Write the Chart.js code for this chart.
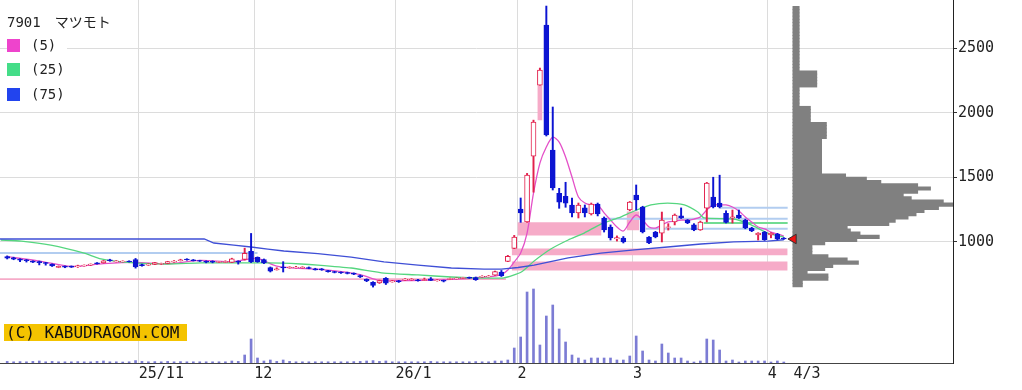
<!DOCTYPE html>
<html>
<head>
<meta charset="utf-8">
<script src="https://cdn.jsdelivr.net/npm/chart.js@4.4.1/dist/chart.umd.min.js"></script>
<style>
  html, body { margin: 0; padding: 0; background: #fff; }
  #wrap { position: relative; width: 1022px; height: 390px; }
  .lg { position: absolute; font-family: 'DejaVu Sans Mono', 'Noto Sans CJK JP', monospace; font-size: 14px; color: #222; white-space: nowrap; }
  .row { background: #fff; width: 60px; height: 16px; line-height: 16px; }
  .sw { display: inline-block; width: 13px; height: 13px; vertical-align: -2px; margin-right: 11px; }
  #badge { position: absolute; left: 4px; top: 324px; width: 183px; height: 17px; line-height: 17px; background: #f4c300; font-family: 'DejaVu Sans Mono', monospace; font-size: 16px; color: #111; padding-left: 2px; box-sizing: border-box; }
</style>
</head>
<body>
<div id="wrap">
  <canvas id="chart" width="1022" height="390"></canvas>
  <div class="lg" style="left:7px;top:11px;">7901<span style="margin-left:14px;font-family:'Noto Sans CJK JP';">マツモト</span></div>
  <div class="lg row" style="left:7px;top:37px;"><span class="sw" style="background:#ee44cc"></span>(5)</div>
  <div class="lg row" style="left:7px;top:61px;"><span class="sw" style="background:#44dd88"></span>(25)</div>
  <div class="lg row" style="left:7px;top:86px;"><span class="sw" style="background:#2244ee"></span>(75)</div>
  <div id="badge">(C) KABUDRAGON.COM</div>
</div>
<script>
// daily candles, 2025/10/2 .. 2026/4/3 (index 0..121)
const openP = [
  884, 874, 866, 860, 850, 846, 838, 826, 800, 810,
  810, 806, 812, 818, 836, 836, 860, 844, 845, 850,
  862, 822, 818, 824, 825, 832, 842, 852, 866, 860,
  854, 848, 848, 840, 840, 840, 850, 862, 925, 878,
  862, 800, 782, 804, 797, 798, 797, 800, 790, 790,
  776, 768, 764, 760, 756, 738, 708, 684, 680, 715,
  688, 696, 702, 704, 704, 700, 712, 697, 700, 708,
  712, 716, 724, 722, 726, 728, 740, 765, 847, 948,
  1254, 1153, 1664, 2215, 2681, 1711, 1376, 1352, 1285, 1223,
  1262, 1215, 1292, 1184, 1114, 1021, 1029, 1246, 1362, 1269,
  1036, 1075, 1067, 1110, 1153, 1200, 1168, 1130, 1091, 1261,
  1347, 1300, 1220, 1184, 1207, 1168, 1106, 1052, 1075, 1052,
  1060, 1029
];
const highP = [
  890, 880, 868, 862, 852, 850, 840, 828, 812, 812,
  812, 818, 820, 828, 838, 854, 864, 854, 852, 852,
  870, 826, 830, 840, 834, 848, 854, 864, 868, 862,
  856, 852, 852, 848, 852, 872, 852, 950, 1064, 882,
  866, 804, 798, 845, 806, 808, 806, 804, 794, 792,
  778, 770, 766, 764, 758, 742, 712, 690, 702, 722,
  700, 700, 714, 714, 708, 718, 722, 706, 702, 718,
  720, 724, 726, 726, 736, 738, 772, 777, 894, 1049,
  1339, 1530, 1943, 2347, 2828, 2045, 1414, 1461, 1339, 1300,
  1285, 1300, 1300, 1192, 1130, 1045, 1040, 1312, 1440, 1275,
  1040, 1080, 1230, 1140, 1215, 1262, 1172, 1140, 1160, 1460,
  1500, 1516, 1240, 1246, 1246, 1175, 1112, 1070, 1080, 1070,
  1065, 1032
];
const lowP = [
  866, 860, 845, 842, 838, 820, 818, 808, 798, 798,
  800, 800, 810, 815, 826, 834, 848, 842, 842, 842,
  795, 810, 816, 822, 822, 830, 840, 850, 856, 850,
  846, 836, 836, 838, 838, 838, 826, 858, 838, 840,
  830, 765, 780, 765, 794, 795, 794, 790, 780, 778,
  764, 758, 754, 750, 744, 722, 690, 648, 676, 668,
  686, 684, 700, 700, 694, 698, 698, 694, 688, 706,
  710, 713, 715, 700, 724, 726, 738, 730, 845, 946,
  1150, 1150, 1384, 2214, 1820, 1401, 1259, 1267, 1192, 1184,
  1192, 1207, 1200, 1075, 1013, 1005, 990, 1240, 1246, 1068,
  985, 1030, 998, 1090, 1130, 1180, 1140, 1085, 1088, 1153,
  1262, 1262, 1145, 1145, 1180, 1100, 1078, 1013, 1010, 1030,
  1015, 1018
];
const closeP = [
  872, 864, 856, 852, 842, 838, 832, 812, 808, 802,
  802, 812, 818, 826, 828, 852, 852, 850, 850, 845,
  805, 814, 826, 838, 830, 846, 850, 860, 860, 852,
  848, 842, 842, 846, 846, 868, 842, 909, 845, 845,
  835, 772, 790, 796, 803, 804, 803, 792, 782, 782,
  768, 762, 758, 754, 748, 726, 696, 660, 699, 678,
  696, 690, 710, 710, 698, 706, 700, 703, 694, 714,
  718, 722, 718, 705, 732, 734, 768, 736, 886, 1036,
  1223, 1517, 1928, 2331, 1828, 1417, 1306, 1298, 1223, 1285,
  1223, 1292, 1215, 1091, 1029, 1031, 998, 1308, 1325, 1075,
  990, 1037, 1168, 1116, 1207, 1184, 1145, 1091, 1153, 1455,
  1269, 1269, 1150, 1192, 1184, 1106, 1083, 1067, 1013, 1067,
  1021, 1021
];
const volume = [
  80, 60, 70, 60, 80, 100, 60, 80, 60, 60,
  60, 70, 60, 60, 80, 100, 60, 60, 50, 60,
  120, 80, 60, 70, 60, 80, 60, 70, 60, 60,
  60, 60, 60, 60, 60, 100, 80, 400, 1200, 250,
  100, 150, 80, 150, 80, 60, 60, 60, 60, 60,
  60, 60, 60, 60, 70, 80, 100, 120, 80, 100,
  60, 60, 60, 60, 60, 60, 80, 60, 60, 60,
  60, 60, 60, 70, 60, 60, 100, 100, 150, 750,
  1300, 3550, 3700, 900, 2350, 2900, 1700, 1050, 400, 250,
  150, 250, 250, 250, 250, 150, 150, 350, 1350, 600,
  150, 100, 950, 500, 250, 250, 100, 50, 100, 1200,
  1150, 650, 100, 150, 50, 100, 100, 100, 100, 50,
  100, 50
];

// first trading day of each month (candle index) and its label
const monthIdx = [21, 39, 61, 80, 98, 119];
const monthLabels = ['25/11', '12', '26/1', '2', '3', '4'];
const lastLabel = '4/3';
const priceTicks = [1000, 1500, 2000, 2500];

// moving averages: [index, price]
const ma5Pts = [
  [0, 884], [5, 850], [10, 808], [15, 830], [20, 840], [25, 828], [30, 855], [35, 845],
  [37, 860], [39, 870], [42, 810], [45, 795], [50, 780], [55, 745], [58, 700], [62, 698],
  [66, 702], [70, 710], [75, 728], [77, 745], [78, 780], [79, 843], [80, 912], [81, 1067],
  [82, 1377], [83, 1610], [84, 1734], [85, 1811], [86, 1773], [87, 1657], [88, 1502], [89, 1347],
  [90, 1300], [91, 1285], [92, 1285], [93, 1223], [94, 1168], [95, 1114], [96, 1083], [97, 1153],
  [98, 1207], [99, 1168], [100, 1114], [101, 1106], [102, 1130], [103, 1153], [104, 1160], [105, 1168],
  [106, 1168], [107, 1176], [108, 1192], [109, 1246], [110, 1285], [111, 1285], [112, 1285], [113, 1269],
  [114, 1238], [115, 1192], [116, 1153], [117, 1114], [118, 1099], [119, 1075], [120, 1060], [121, 1044]
];
const ma25Pts = [
  [-1, 1013], [2.2, 1005], [6.8, 974], [12, 912], [14.6, 866], [19.8, 835], [25, 827], [30.2, 835],
  [40.6, 835], [45.8, 827], [48.4, 819], [53.6, 796], [58.7, 757], [64, 742], [69.2, 726], [74.3, 718],
  [77.4, 720], [80.1, 765], [82.1, 850], [84.7, 943], [87.4, 1013], [89.9, 1067], [92.5, 1137], [95.2, 1184],
  [97.7, 1238], [100.3, 1285], [102.9, 1300], [105.5, 1285], [107.6, 1230], [108.6, 1184], [113.2, 1176],
  [115.9, 1130], [118.5, 1067], [121, 1035]
];
const ma75Pts = [
  [-1.2, 1021], [30.7, 1021], [32.2, 990], [35.3, 974], [38, 959], [40.6, 943], [43.1, 928], [48.4, 908],
  [53.6, 881], [58.7, 843], [64, 819], [69.2, 796], [74.3, 788], [77, 788], [79.6, 800], [82.1, 819],
  [87.4, 874], [92.5, 912], [97.7, 936], [102.9, 959], [108.1, 982], [113.2, 998], [118.5, 1005], [121, 1015]
];

// open gaps: [fromIndex, toIndex, low, high]
const gapBands = [
  [-1.2, 77.7, 703, 716],
  [78.6, 121.6, 777, 847],
  [78.6, 121.6, 894, 948],
  [79.5, 92.6, 1049, 1150],
  [82.6, 83.4, 1943, 2214],
  [96.5, 98.5, 1088, 1235]
];
// price lines: [fromIndex, toIndex, price]
const blueLines = [[-1.2, 39, 912], [111, 121.6, 1264], [93, 121.6, 1179], [99.5, 121.6, 1101]];
const greenLines = [[108.5, 121.6, 1146]];

// price-by-volume profile, 25 yen bins from 650
const profileFrom = 650;
const profileStep = 25;
const profileVol = [
  6, 6, 22, 22, 9, 20, 25, 41, 34, 22,
  12, 12, 12, 20, 40, 54, 42, 36, 34, 60,
  64, 72, 77, 82, 91, 100, 94, 74, 69, 78,
  86, 78, 55, 46, 33,
  18, 18, 18, 18, 18, 18, 18, 18, 18, 18, 18,
  21, 21, 21, 21, 21,
  11, 11, 11, 11, 11,
  4, 4, 4, 4, 4, 4,
  15, 15, 15, 15, 15,
  4, 4, 4, 4, 4, 4, 4, 4, 4, 4, 4, 4, 4, 4, 4, 4, 4, 4, 4, 4
];

const UP = '#e2204c';
const DOWN = '#0c14d2';
const monoFont = "'DejaVu Sans Mono', monospace";

const lastIdx = closeP.length - 1;
const isUp = closeP.map((c, i) => c > openP[i]);
const tickVals = monthIdx.map(i => i - 0.5).concat([lastIdx + 1.5]);
const tickText = monthLabels.concat([lastLabel]);

const datasets = [];

gapBands.forEach(b => {
  datasets.push({
    type: 'line',
    data: [{x: b[0], y: b[3]}, {x: b[1], y: b[3]}],
    borderWidth: 0,
    pointRadius: 0,
    backgroundColor: '#f6abc8',
    fill: {value: b[2]},
    order: 30
  });
});

function priceLine(l, color) {
  return {
    type: 'line',
    data: [{x: l[0], y: l[2]}, {x: l[1], y: l[2]}],
    borderColor: color,
    borderWidth: 2,
    pointRadius: 0,
    fill: false,
    order: 25
  };
}
blueLines.forEach(l => datasets.push(priceLine(l, '#b2cdf0')));
greenLines.forEach(l => datasets.push(priceLine(l, '#72dc92')));

datasets.push({
  type: 'bar',
  yAxisID: 'yv',
  data: volume.map((v, i) => ({x: i, y: v})),
  backgroundColor: '#7c7cd4',
  barThickness: 2,
  grouped: false,
  order: 20
});

function maLine(pts, color, tension) {
  return {
    type: 'line',
    data: pts.map(p => ({x: p[0], y: p[1]})),
    borderColor: color,
    borderWidth: 1.3,
    pointRadius: 0,
    tension: tension,
    fill: false,
    order: 15
  };
}
datasets.push(maLine(ma75Pts, '#3f4fd6', 0));
datasets.push(maLine(ma25Pts, '#55d67f', 0.2));
datasets.push(maLine(ma5Pts, '#e450c8', 0.3));

// wicks
datasets.push({
  type: 'bar',
  data: closeP.map((c, i) => ({x: i, y: [lowP[i], highP[i]]})),
  backgroundColor: isUp.map(u => u ? UP : DOWN),
  barThickness: 1.3,
  grouped: false,
  order: 10
});
// bodies
datasets.push({
  type: 'bar',
  data: closeP.map((c, i) => ({x: i, y: [openP[i], c]})),
  backgroundColor: isUp.map(u => u ? '#ffffff' : DOWN),
  borderColor: isUp.map(u => u ? UP : DOWN),
  borderWidth: 1,
  borderSkipped: false,
  barThickness: 5,
  grouped: false,
  order: 9
});

// volume profile (horizontal bars)
datasets.push({
  type: 'bar',
  indexAxis: 'y',
  xAxisID: 'xp',
  yAxisID: 'y',
  data: profileVol.map((v, k) => ({x: v, y: profileFrom + profileStep * k + profileStep / 2})),
  backgroundColor: '#808080',
  barThickness: 3.4,
  grouped: false,
  order: 5
});

// last price marker
datasets.push({
  type: 'line',
  data: [{x: lastIdx + 1.5, y: closeP[lastIdx]}],
  showLine: false,
  pointStyle: 'triangle',
  rotation: 270,
  pointRadius: 5.5,
  pointBackgroundColor: '#ee1111',
  pointBorderColor: '#333',
  pointBorderWidth: 1,
  order: 1
});

const noPad = s => { s.paddingTop = 0; s.paddingBottom = 0; s.paddingLeft = 0; s.paddingRight = 0; };

new Chart(document.getElementById('chart'), {
  type: 'bar',
  data: {datasets: datasets},
  options: {
    responsive: false,
    animation: false,
    devicePixelRatio: 1,
    layout: {padding: 0, autoPadding: false},
    plugins: {
      legend: {display: false},
      tooltip: {enabled: false}
    },
    scales: {
      x: {
        type: 'linear',
        min: -1.12,
        max: 147.36,
        offset: false,
        afterBuildTicks: s => { s.ticks = tickVals.map(v => ({value: v})); },
        afterFit: s => { s.height = 27; noPad(s); },
        grid: {
          offset: false,
          drawTicks: false,
          color: ctx => (ctx.tick && ctx.tick.value === tickVals[tickVals.length - 1]) ? 'rgba(0,0,0,0)' : '#dcdcdc'
        },
        border: {color: '#444', width: 1},
        ticks: {
          autoSkip: false,
          maxRotation: 0,
          align: 'start',
          padding: 2,
          color: '#222',
          font: {family: monoFont, size: 15},
          callback: v => {
            const k = tickVals.indexOf(v);
            return k >= 0 ? tickText[k] : '';
          }
        }
      },
      y: {
        type: 'linear',
        position: 'right',
        min: 59,
        max: 2875,
        offset: false,
        beginAtZero: false,
        afterBuildTicks: s => { s.ticks = priceTicks.map(v => ({value: v})); },
        afterFit: s => { s.width = 69; noPad(s); },
        grid: {offset: false, color: '#dcdcdc', tickColor: '#333', tickLength: 4},
        border: {color: '#222', width: 1},
        ticks: {
          padding: 1,
          color: '#222',
          font: {family: monoFont, size: 15},
          callback: v => String(v)
        }
      },
      yv: {type: 'linear', display: false, min: 0, max: 18150, offset: false, ticks: {display: false}, afterFit: noPad},
      xp: {type: 'linear', display: false, min: -495, max: 100, offset: false, ticks: {display: false}, afterFit: noPad}
    }
  }
});
</script>
</body>
</html>
